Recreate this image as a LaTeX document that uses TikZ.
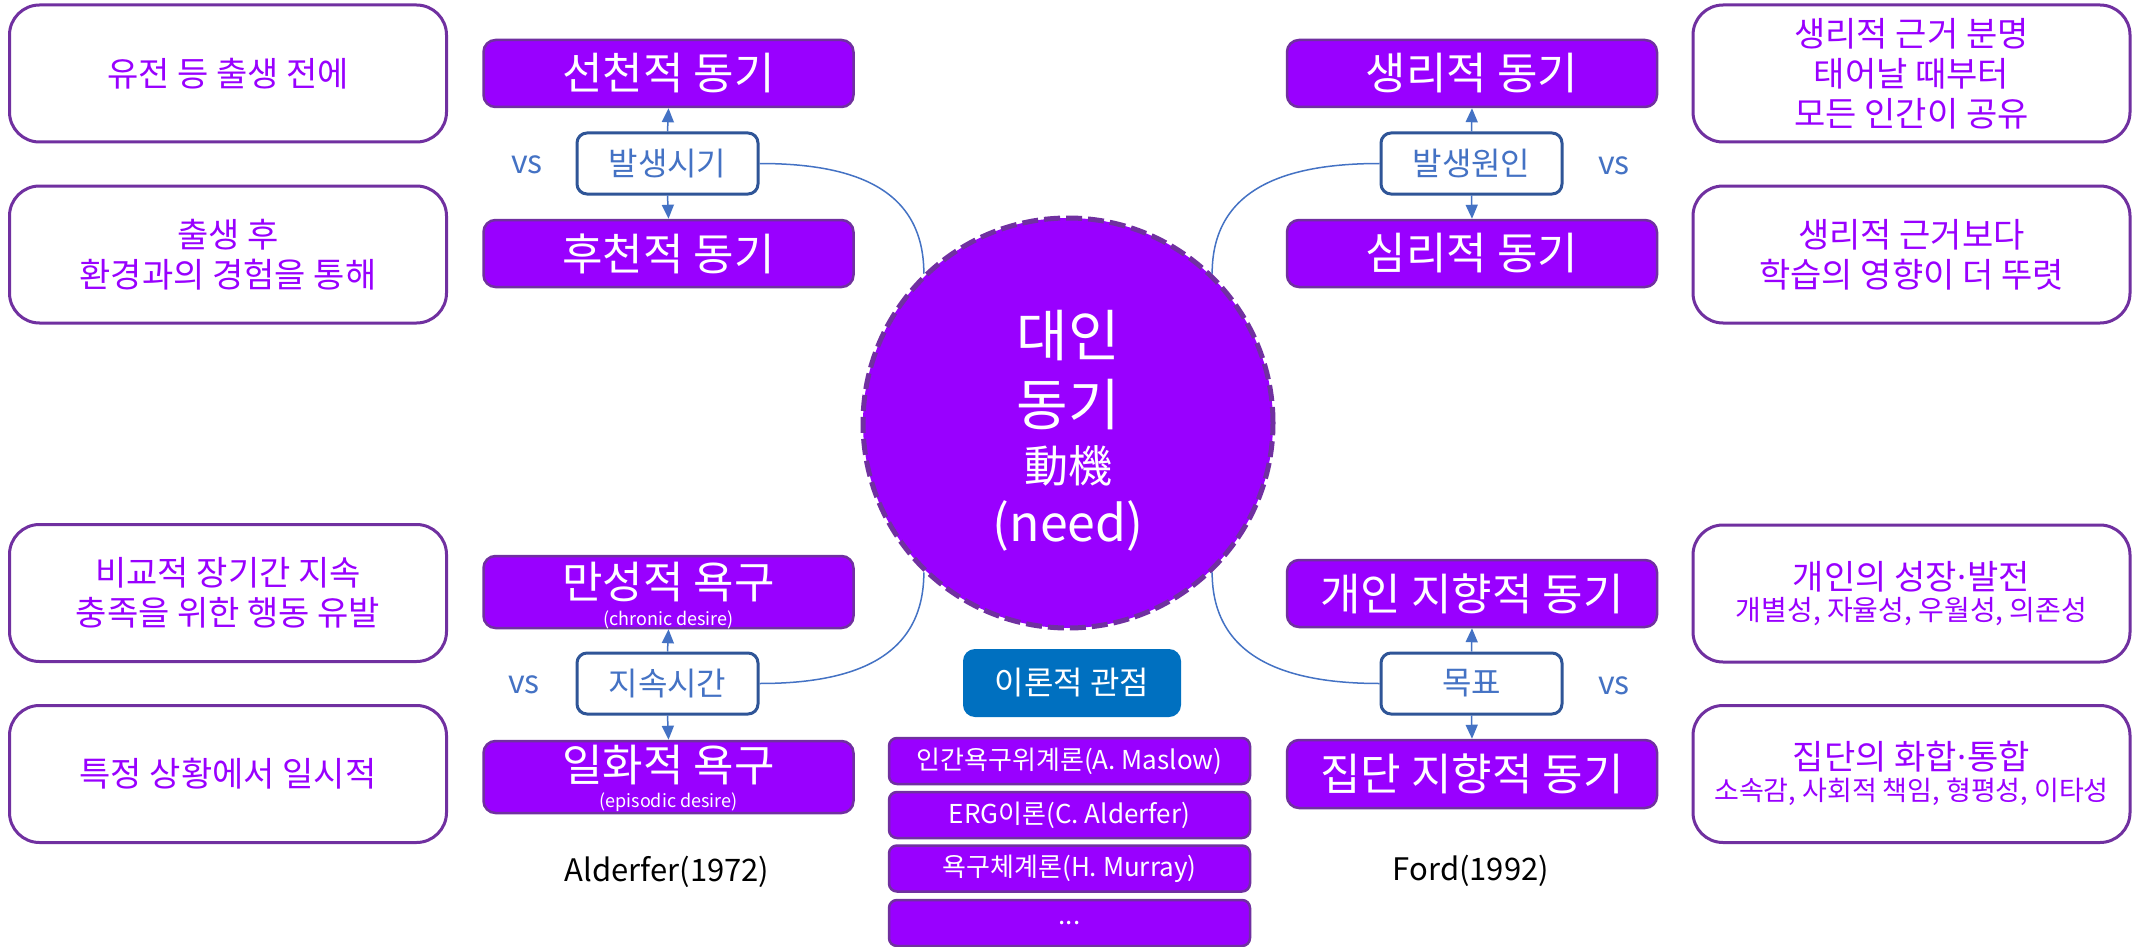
\documentclass[tikz,border=0pt]{standalone}
\usepackage{fontspec}
\setmainfont{Noto Sans CJK KR}
\newfontfamily\dotfont{Noto Sans}
\usetikzlibrary{arrows.meta}
\definecolor{pfill}{HTML}{9900FF}
\definecolor{pdraw}{HTML}{7030A0}
\definecolor{ptext}{HTML}{9900FF}
\definecolor{bline}{HTML}{4472C4}
\definecolor{bdark}{HTML}{2F5597}
\definecolor{tblue}{HTML}{0070C0}
\newcommand{\middot}{{\dotfont\kern0.02em·\kern0.02em}}
\tikzset{
  notebox/.style={draw=pdraw, line width=3pt, rounded corners=30pt, fill=white,
    minimum width=437pt, minimum height=137pt, inner sep=0pt},
  notetext/.style={text=ptext, align=center, font=\fontsize{34}{40}\selectfont, inner sep=0pt},
  notesmall/.style={text=ptext, align=center, font=\fontsize{28}{32}\selectfont, inner sep=0pt},
  motbox/.style={draw=pdraw, line width=2.5pt, rounded corners=12pt, fill=pfill,
    minimum width=370pt, minimum height=67pt, inner sep=0pt},
  mottext/.style={text=white, font=\fontsize{44}{50}\selectfont, inner sep=0pt},
  subtext/.style={text=white, font=\fontsize{18}{20}\selectfont, inner sep=0pt},
  keybox/.style={draw=bdark, line width=3pt, rounded corners=10pt, fill=white,
    minimum width=181pt, minimum height=61pt, inner sep=0pt,
    text=bline, font=\fontsize{32}{36}\selectfont},
  vslabel/.style={text=bline, font=\fontsize{32}{36}\selectfont, inner sep=0pt},
  link/.style={draw=bline, line width=1.5pt},
  tip/.style={draw=bline, line width=1.5pt, -{Triangle[length=14pt,width=12pt]}},
  thbox/.style={draw=pdraw, line width=2.5pt, rounded corners=8pt, fill=pfill,
    minimum width=361pt, minimum height=46pt, inner sep=0pt,
    text=white, font=\fontsize{26}{30}\selectfont},
  headbox/.style={fill=tblue, rounded corners=12pt, minimum width=218pt, minimum height=68pt,
    inner sep=0pt, text=white, font=\fontsize{32}{36}\selectfont},
  ctext/.style={text=white, inner sep=0pt},
  author/.style={text=black, font=\fontsize{31}{34}\selectfont, inner sep=0pt}
}
\begin{document}
\begin{tikzpicture}[x=1pt,y=-1pt]
\useasboundingbox (0,0) rectangle (2142,947);
\fill[white] (0,0) rectangle (2142,947);

% white description boxes
\node[notebox] (n1) at (228,73.5) {};
\node[notetext] (n1t) at (n1.center) {유전 등 출생 전에};
\node[notebox] (n2) at (228,254.5) {};
\node[notetext] (n2t) at (n2.center) {출생 후\\환경과의 경험을 통해};
\node[notebox] (n3) at (228,593) {};
\node[notetext] (n3t) at (n3.center) {비교적 장기간 지속\\충족을 위한 행동 유발};
\node[notebox] (n4) at (228,774) {};
\node[notetext] (n4t) at (n4.center) {특정 상황에서 일시적};

\node[notebox] (r1) at (1911.5,73.5) {};
\node[notetext] (r1t) at (r1.center) {생리적 근거 분명\\태어날 때부터\\모든 인간이 공유};
\node[notebox] (r2) at (1911.5,254.5) {};
\node[notetext] (r2t) at (r2.center) {생리적 근거보다\\학습의 영향이 더 뚜렷};
\node[notebox] (r3) at (1911.5,593.5) {};
\node[notetext] (r3t) at (1911.5,577) {개인의 성장\middot 발전};
\node[notesmall] (r3s) at (1911.5,612) {개별성, 자율성, 우월성, 의존성};
\node[notebox] (r4) at (1911.5,774) {};
\node[notetext] (r4t) at (1911.5,757) {집단의 화합\middot 통합};
\node[notesmall, font=\fontsize{27}{32}\selectfont] (r4s) at (1911.5,792) {소속감, 사회적 책임, 형평성, 이타성};

% purple motive boxes
\node[motbox] (m1) at (668.5,73.5) {};
\node[mottext] (m1t) at (m1.center) {선천적 동기};
\node[motbox] (m2) at (668.5,253.5) {};
\node[mottext] (m2t) at (m2.center) {후천적 동기};
\node[motbox, minimum height=72pt] (m3) at (668.5,592) {};
\node[mottext] (m3t) at (668.5,582) {만성적 욕구};
\node[subtext] (m3s) at (668.5,620) {(chronic desire)};
\node[motbox, minimum height=72pt] (m4) at (668.5,777) {};
\node[mottext] (m4t) at (668.5,765) {일화적 욕구};
\node[subtext] (m4s) at (668.5,802) {(episodic desire)};

\node[motbox] (m5) at (1472,73.5) {};
\node[mottext] (m5t) at (m5.center) {생리적 동기};
\node[motbox] (m6) at (1472,253.5) {};
\node[mottext] (m6t) at (m6.center) {심리적 동기};
\node[motbox] (m7) at (1472,593.5) {};
\node[mottext] (m7t) at (m7.center) {개인 지향적 동기};
\node[motbox, minimum height=68pt] (m8) at (1472,774) {};
\node[mottext] (m8t) at (m8.center) {집단 지향적 동기};

% key (criterion) boxes
\node[keybox] (k1) at (667.5,163.5) {발생시기};
\node[keybox] (k2) at (667.5,683.5) {지속시간};
\node[keybox] (k3) at (1471.5,163.5) {발생원인};
\node[keybox] (k4) at (1471.5,683.5) {목표};

\node[vslabel] (v1) at (527,165) {vs};
\node[vslabel] (v2) at (524,685) {vs};
\node[vslabel] (v3) at (1614,166) {vs};
\node[vslabel] (v4) at (1614,686) {vs};

% arrows
\draw[tip] (k1.north) -- (m1.south);
\draw[tip] (k1.south) -- (m2.north);
\draw[tip] (k2.north) -- (m3.south);
\draw[tip] (k2.south) -- (m4.north);
\draw[tip] (k3.north) -- (m5.south);
\draw[tip] (k3.south) -- (m6.north);
\draw[tip] (k4.north) -- (m7.south);
\draw[tip] (k4.south) -- (m8.north);

% central circle
\node[circle, draw=pdraw, fill=pfill, line width=5pt, dash pattern=on 16pt off 6pt,
      minimum size=410pt, inner sep=0pt] (c) at (1068,423) {};
\node[ctext, font=\fontsize{56}{60}\selectfont] (c1) at (1068,336) {대인};
\node[ctext, font=\fontsize{56}{60}\selectfont] (c2) at (1068,405) {동기};
\node[ctext, font=\fontsize{44}{48}\selectfont] (c3) at (1068,466) {動機};
\node[ctext, font=\fontsize{50}{54}\selectfont] (c4) at (1068,526) {(need)};

% connectors to the circle
\draw[link] (k1.east) .. controls +(95,0) and +(0,-85) .. (c.134);
\draw[link] (k2.east) .. controls +(95,0) and +(0,85) .. (c.226);
\draw[link] (k3.west) .. controls +(-95,0) and +(0,-85) .. (c.46);
\draw[link] (k4.west) .. controls +(-95,0) and +(0,85) .. (c.314);

% theories
\node[headbox] (h) at (1072,683) {이론적 관점};
\node[thbox] (t1) at (1069.5,761) {인간욕구위계론(A. Maslow)};
\node[thbox] (t2) at (1069.5,815) {ERG이론(C. Alderfer)};
\node[thbox] (t3) at (1069.5,868.5) {욕구체계론(H. Murray)};
\node[thbox] (t4) at (1069.5,923) {...};

\node[author] (a1) at (667,872) {Alderfer(1972)};
\node[author] (a2) at (1471,871) {Ford(1992)};
\end{tikzpicture}
\end{document}
